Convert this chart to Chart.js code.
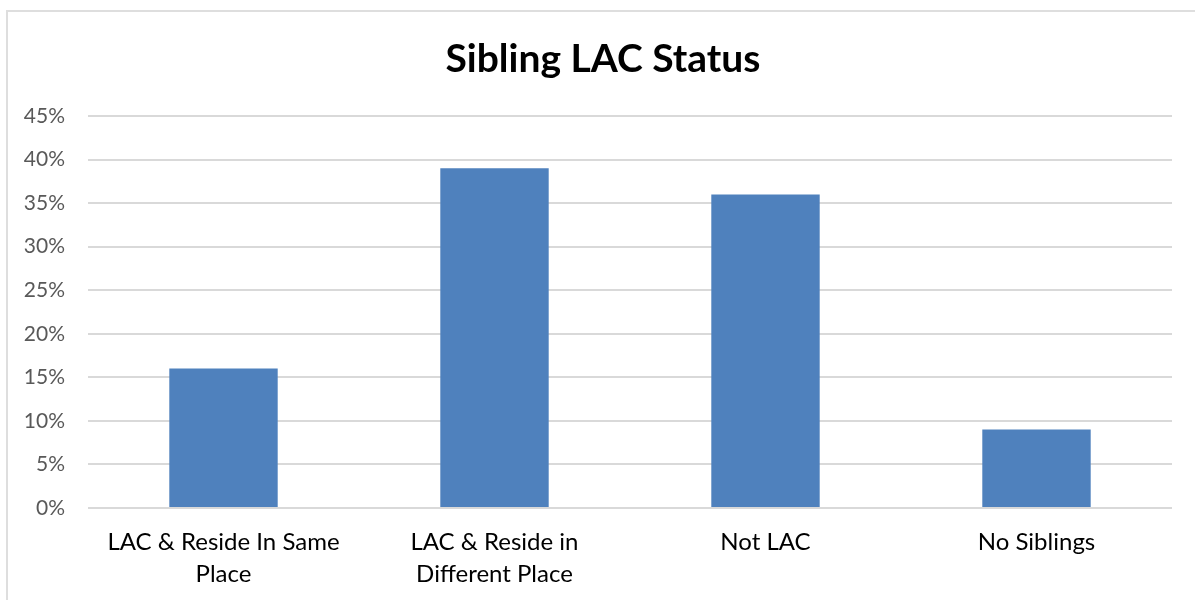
<!DOCTYPE html>
<html>
<head>
<meta charset="utf-8">
<script src="https://cdn.jsdelivr.net/npm/chart.js@4"></script>
<style>
  html, body { margin: 0; padding: 0; background: #ffffff; overflow: hidden; }
  #wrap { position: relative; width: 1195px; height: 600px; }
  #frame { position: absolute; left: 6px; top: 10px; width: 1300px; height: 700px; border: 2px solid #dedede; box-sizing: border-box; pointer-events: none; }
  canvas { position: absolute; left: 0; top: 0; }
</style>
</head>
<body>
<div id="wrap">
  <canvas id="c" width="1195" height="600"></canvas>
  <div id="frame"></div>
</div>
<script>
const chartTitle = 'Sibling LAC Status';
const categories = [
  ['LAC & Reside In Same', 'Place'],
  ['LAC & Reside in', 'Different Place'],
  'Not LAC',
  'No Siblings'
];
const values = [16, 39, 36, 9];
const yMin = 0;
const yMax = 45;
const yStep = 5;

new Chart(document.getElementById('c'), {
  type: 'bar',
  data: {
    labels: categories,
    datasets: [{
      data: values,
      backgroundColor: '#4F81BD',
      borderWidth: 0,
      categoryPercentage: 1.0,
      barPercentage: 0.40
    }]
  },
  options: {
    responsive: false,
    animation: false,
    layout: { padding: { left: 11, right: 0, top: 0, bottom: 0 } },
    plugins: {
      legend: { display: false },
      tooltip: { enabled: false },
      title: {
        display: true,
        text: chartTitle,
        color: '#000000',
        font: { family: 'Lato', size: 39, weight: 'bold', lineHeight: 1.2 },
        padding: { top: 36, bottom: 33.2 }
      }
    },
    scales: {
      x: {
        grid: { display: false, drawTicks: false },
        border: { display: false },
        ticks: {
          color: '#000000',
          font: { family: 'Lato', size: 24, lineHeight: 1.33 },
          padding: 18,
          maxRotation: 0,
          autoSkip: false
        },
        afterFit: (s) => { s.height = 92; }
      },
      y: {
        min: yMin,
        max: yMax,
        grid: { color: '#d9d9d9', lineWidth: 2, drawTicks: false },
        border: { display: false },
        ticks: {
          stepSize: yStep,
          color: '#595959',
          font: { family: 'Lato', size: 21 },
          padding: 23,
          callback: (v) => v + '%'
        },
        afterFit: (s) => { s.width = 77; }
      },
      yRight: {
        position: 'right',
        display: true,
        grid: { display: false, drawTicks: false },
        border: { display: false },
        ticks: { display: false },
        afterFit: (s) => { s.width = 23; }
      }
    }
  }
});
</script>
</body>
</html>
